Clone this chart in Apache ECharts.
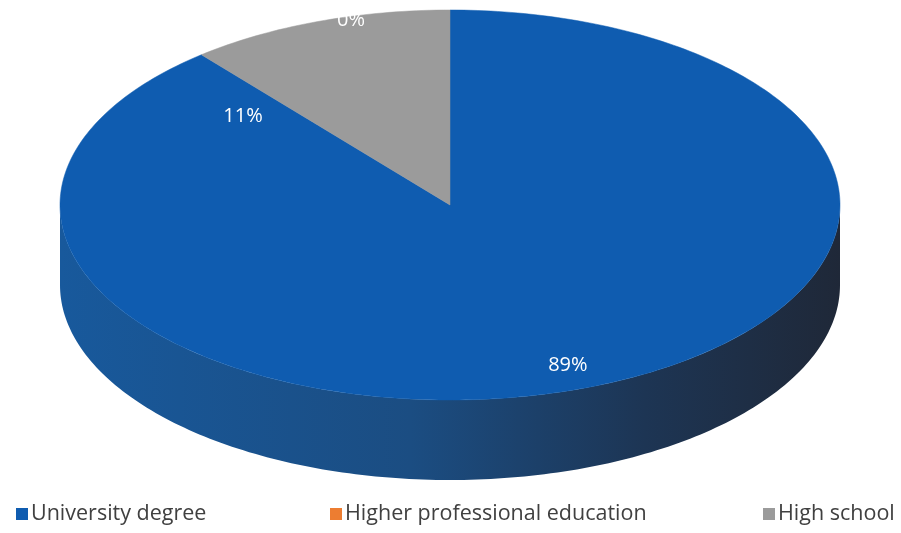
<!DOCTYPE html>
<html>
<head>
<meta charset="utf-8">
<script src="https://cdn.jsdelivr.net/npm/echarts@6/dist/echarts.min.js"></script>
<style>html,body{margin:0;padding:0;background:#fff}#c{width:901px;height:533px}</style>
</head>
<body>
<div id="c"></div>
<script>
const categories = ['University degree', 'Higher professional education', 'High school'];
const values = [89, 0, 11];
const labels = ['89%', '0%', '11%'];
const colors = ['#0f5cb0', '#ed7d31', '#9b9b9b'];

const total = values.reduce((a, b) => a + b, 0);
const G = { cx: 450, cy: 205, rx: 390, ry: 195, depth: 80 };
// label placement (angle in degrees clockwise from top, radius fraction) - Excel style
const labelPlace = [[159.8, 0.875], [345, 0.98], [310.7, 0.70]];

function pt(theta, dy) {
  return [G.cx + G.rx * Math.sin(theta), G.cy - G.ry * Math.cos(theta) + (dy || 0)];
}
function arc(a, b, dy) {
  const pts = [];
  const n = Math.max(2, Math.ceil((b - a) / (Math.PI / 180)));
  for (let k = 0; k <= n; k++) pts.push(pt(a + (b - a) * k / n, dy));
  return pts;
}

function makeRender(i) {
  return function (params, api) {
    let before = 0;
    for (let j = 0; j < i; j++) before += values[j];
    const v = api.value(0);
    const a = before / total * 2 * Math.PI;
    const b = (before + v) / total * 2 * Math.PI;
    const children = [];
    if (v > 0) {
      const sa = Math.max(a, Math.PI / 2), sb = Math.min(b, 3 * Math.PI / 2);
      if (sb > sa) {
        const top = arc(sa, sb, 0);
        const bot = arc(sa, sb, G.depth).reverse();
        children.push({
          type: 'polygon', z2: 1,
          shape: { points: top.concat(bot) },
          style: {
            fill: new echarts.graphic.LinearGradient(0, 0, 1, 0, [
              { offset: 0, color: '#18599c' },
              { offset: 0.45, color: '#1b4d82' },
              { offset: 0.75, color: '#1d3554' },
              { offset: 1, color: '#1f2838' }
            ]),
            stroke: null
          }
        });
      }
      const topPts = [[G.cx, G.cy]].concat(arc(a, b, 0));
      children.push({
        type: 'polygon', z2: 10,
        shape: { points: topPts },
        style: { fill: colors[i], stroke: colors[i], lineWidth: 0.5 }
      });
    }
    const lp = labelPlace[i];
    const th = lp[0] * Math.PI / 180;
    children.push({
      type: 'text', z2: 20,
      x: G.cx + G.rx * lp[1] * Math.sin(th),
      y: G.cy - G.ry * lp[1] * Math.cos(th),
      style: {
        text: labels[i], fill: '#ffffff', font: '20px "Open Sans", sans-serif',
        align: 'center', verticalAlign: 'middle'
      }
    });
    return { type: 'group', children: children };
  };
}

const series = categories.map((name, i) => ({
  type: 'custom',
  name: name,
  coordinateSystem: 'none',
  itemStyle: { color: colors[i] },
  data: [[values[i]]],
  renderItem: makeRender(i),
  silent: true
}));

const legendLefts = [16, 330, 763];
const legend = categories.map((name, i) => ({
  data: [name],
  left: legendLefts[i],
  top: 503,
  padding: 0,
  icon: 'rect',
  itemWidth: 12,
  itemHeight: 12,
  textStyle: { color: '#404040', fontSize: 21.5, fontFamily: '"Open Sans", sans-serif', padding: [0, 0, 0, -2] },
  selectedMode: false
}));

const chart = echarts.init(document.getElementById('c'));
chart.setOption({
  animation: false,
  backgroundColor: '#ffffff',
  legend: legend,
  series: series
});
</script>
</body>
</html>
